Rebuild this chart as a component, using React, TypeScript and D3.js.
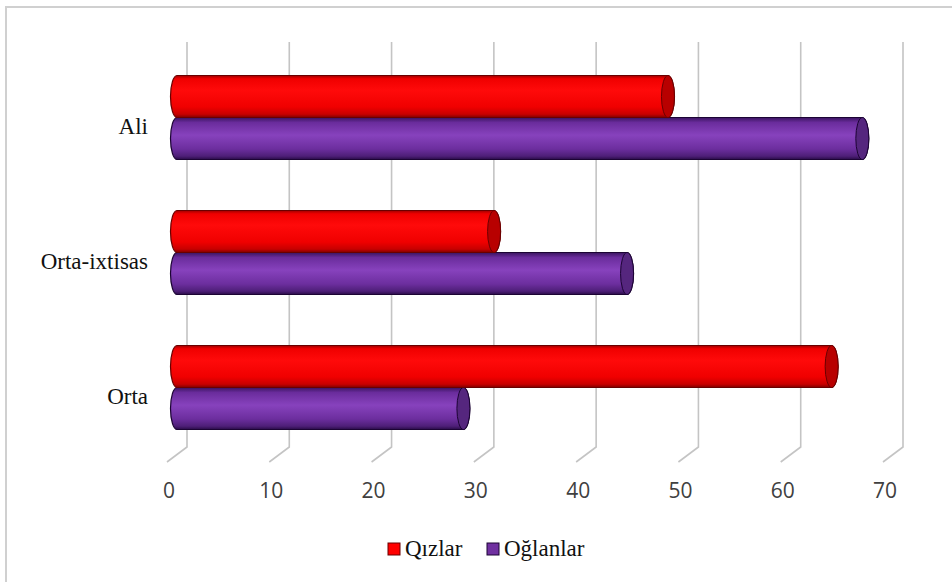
import React from "react";
import * as d3 from "d3";

const categories = ["Ali", "Orta-ixtisas", "Orta"];
const seriesNames = ["Qızlar", "Oğlanlar"];
const qizlar = [48, 31, 64];
const oglanlar = [67, 44, 28];
const ticks = [0, 10, 20, 30, 40, 50, 60, 70];

const W = 952;
const H = 582;
const DEPTH_X = 20;
const DEPTH_Y = 15;

export default function App() {
  const x = d3.scaleLinear().domain([0, 70]).range([187, 903]);
  const y = d3.scaleBand().domain(categories).range([50, 455]).padding(0);
  const sub = d3.scaleBand().domain(seriesNames).range([25.5, 109.5]).padding(0);
  const topY = 42;
  const backBottom = 447;
  const values = [qizlar, oglanlar];
  const grads = ["gRed", "gPurple"];
  const capFill = ["#b80000", "#55267e"];
  const strokes = ["#6a0000", "#1c0434"];
  const legendColors = ["#ff0000", "#7030a0"];
  const rx = 6.5;
  const mid = (v: number) => x(v) - DEPTH_X / 2;

  const cyl = (x0: number, x1: number, yt: number, h: number) => {
    const ry = h / 2;
    const yb = yt + h;
    return `M${x0},${yt}L${x1},${yt}A${rx},${ry} 0 0 1 ${x1},${yb}L${x0},${yb}A${rx},${ry} 0 0 1 ${x0},${yt}Z`;
  };

  return (
    <svg width={W} height={H} style={{ position: "absolute", left: 0, top: 0, background: "#fff" }}>
      <defs>
        <linearGradient id="gRed" x1="0" y1="0" x2="0" y2="1">
          <stop offset="0" stopColor="#a00000" />
          <stop offset="0.08" stopColor="#f00000" />
          <stop offset="0.35" stopColor="#ff0a0a" />
          <stop offset="0.75" stopColor="#f00000" />
          <stop offset="0.92" stopColor="#c80000" />
          <stop offset="1" stopColor="#800000" />
        </linearGradient>
        <linearGradient id="gPurple" x1="0" y1="0" x2="0" y2="1">
          <stop offset="0" stopColor="#3a1460" />
          <stop offset="0.12" stopColor="#6a2c9c" />
          <stop offset="0.42" stopColor="#8742bd" />
          <stop offset="0.75" stopColor="#6c2e9e" />
          <stop offset="0.92" stopColor="#4e1f78" />
          <stop offset="1" stopColor="#2a0c48" />
        </linearGradient>
      </defs>
      <rect x={6} y={7} width={W + 10} height={H + 10} fill="#fff" stroke="#d0d0d0" strokeWidth={2} />
      {ticks.map((t) => (
        <path
          key={"g" + t}
          d={`M${x(t)},${topY}L${x(t)},${backBottom}L${x(t) - DEPTH_X},${backBottom + DEPTH_Y}`}
          fill="none"
          stroke="#c4c4c4"
          strokeWidth={1.6}
        />
      ))}
      {ticks.map((t) => (
        <text
          key={"t" + t}
          x={x(t) - DEPTH_X + 2}
          y={498}
          textAnchor="middle"
          fontFamily="'Open Sans', sans-serif"
          fontSize={21}
          fill="#404040"
        >
          {t}
        </text>
      ))}
      {categories.map((c, ci) => (
        <g key={c}>
          {[1, 0].map((si) => {
            const yt = (y(c) as number) + (sub(seriesNames[si]) as number);
            const h = sub.bandwidth();
            const x0 = mid(0);
            const x1 = mid(values[si][ci]);
            return (
              <g key={si}>
                <path d={cyl(x0, x1, yt, h)} fill={`url(#${grads[si]})`} stroke={strokes[si]} strokeWidth={1.2} />
                <ellipse cx={x1} cy={yt + h / 2} rx={rx} ry={h / 2} fill={capFill[si]} stroke={strokes[si]} strokeWidth={1} />
              </g>
            );
          })}
          <text
            x={148}
            y={(y(c) as number) + y.bandwidth() / 2 + 16}
            textAnchor="end"
            fontFamily="'Liberation Serif', 'Times New Roman', serif"
            fontSize={23}
            fill="#111"
          >
            {c}
          </text>
        </g>
      ))}
      {seriesNames.map((s, i) => {
        const lx = [388, 487][i];
        return (
          <g key={s}>
            <rect x={lx} y={543} width={12} height={12} fill={legendColors[i]} stroke={strokes[i]} strokeWidth={1} />
            <text
              x={lx + 17}
              y={556}
              fontFamily="'Liberation Serif', 'Times New Roman', serif"
              fontSize={23}
              fill="#111"
            >
              {s}
            </text>
          </g>
        );
      })}
    </svg>
  );
}
